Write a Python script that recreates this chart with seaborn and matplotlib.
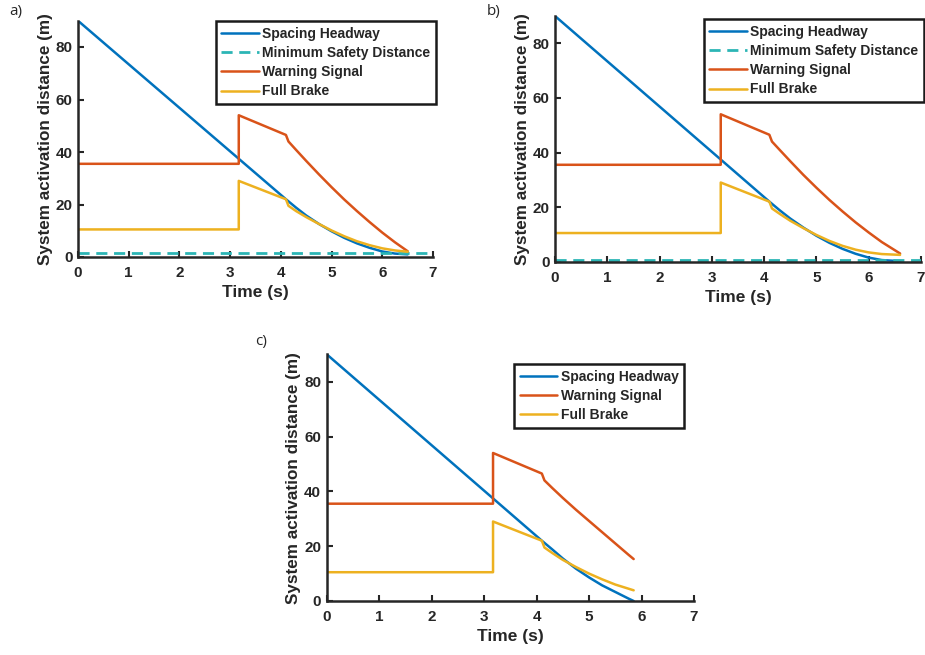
import numpy as np
import pandas as pd
import matplotlib.pyplot as plt
import seaborn as sns

sns.set_style('ticks')
plt.rcParams['font.family'] = ['Liberation Sans', 'DejaVu Sans']

# Цвета в стиле MATLAB
c_head = '#0072BD'
c_warn = '#D95319'
c_brake = '#EDB120'
c_safe = '#2CB5B5'

# --- Панель a ---
a_head_t = [0, 4.1, 4.3, 4.5, 4.75, 5.0, 5.25, 5.5, 5.75, 6.0, 6.25, 6.5]
a_head_d = [90, 22, 18.8, 15.8, 12.6, 9.8, 7.3, 5.2, 3.5, 2.1, 1.3, 1.0]
a_warn_t = [0, 3.17, 3.17, 4.1, 4.15, 4.3, 4.5, 4.75, 5.0, 5.25, 5.5, 5.75, 6.0, 6.25, 6.5]
a_warn_d = [35.5, 35.5, 54, 46.5, 44, 40.8, 36.6, 31.5, 26.6, 21.9, 17.5, 13.3, 9.3, 5.6, 2.2]
a_brake_t = [0, 3.17, 3.17, 4.1, 4.15, 4.3, 4.5, 4.75, 5.0, 5.25, 5.5, 5.75, 6.0, 6.25, 6.5]
a_brake_d = [10.5, 10.5, 29, 22, 19.5, 17.5, 15.2, 12.6, 10.1, 7.9, 6.0, 4.5, 3.3, 2.5, 2.0]
a_safe_t = [0, 7]
a_safe_d = [1.5, 1.5]

# --- Панель b ---
b_head_t = [0, 4.1, 4.3, 4.5, 4.75, 5.0, 5.25, 5.5, 5.75, 6.0, 6.25, 6.6]
b_head_d = [90, 22, 18.8, 15.8, 12.5, 9.5, 6.9, 4.7, 2.9, 1.5, 0.6, 0.2]
b_warn_t = [0, 3.17, 3.17, 4.1, 4.15, 4.3, 4.5, 4.75, 5.0, 5.25, 5.5, 5.75, 6.0, 6.25, 6.6]
b_warn_d = [35.5, 35.5, 54, 46.5, 44, 40.9, 36.8, 31.8, 27.1, 22.6, 18.4, 14.4, 10.7, 7.2, 3.0]
b_brake_t = [0, 3.17, 3.17, 4.1, 4.15, 4.3, 4.5, 4.75, 5.0, 5.25, 5.5, 5.75, 6.0, 6.25, 6.6]
b_brake_d = [10.5, 10.5, 29, 22, 19.5, 17.5, 15, 12.3, 9.8, 7.6, 5.8, 4.4, 3.4, 2.8, 2.5]
b_safe_t = [0, 7]
b_safe_d = [0.8, 0.8]

# --- Панель c ---
c_head_t = [0, 4.1, 4.3, 4.5, 4.75, 5.0, 5.25, 5.5, 5.75, 5.85]
c_head_d = [90, 22, 18.8, 15.5, 11.8, 8.6, 5.7, 3.3, 0.9, 0]
c_warn_t = [0, 3.17, 3.17, 4.1, 4.15, 4.3, 4.5, 4.75, 5.0, 5.25, 5.5, 5.75, 5.85]
c_warn_d = [35.5, 35.5, 54, 46.5, 44, 41.2, 37.6, 33.3, 29.2, 25.1, 21.0, 16.9, 15.3]
c_brake_t = [0, 3.17, 3.17, 4.1, 4.15, 4.3, 4.5, 4.75, 5.0, 5.25, 5.5, 5.75, 5.85]
c_brake_d = [10.5, 10.5, 29, 22, 19.5, 17.5, 15, 12.4, 10, 7.9, 6.0, 4.5, 3.9]

W, H = 925, 655
fig = plt.figure(figsize=(W / 100, H / 100), dpi=100)


def px_axes(x0, y0, x1, y1):
    # прямоугольник осей в пикселях (от верхнего левого угла)
    return fig.add_axes([x0 / W, 1 - y1 / H, (x1 - x0) / W, (y1 - y0) / H])


def draw_panel(ax, series, legend_box, letter, letter_xy):
    for t, d, col, lab, ls in series:
        lw = 2.0 if lab.startswith('Minimum') else 1.8
        sns.lineplot(x=t, y=d, ax=ax, color=col, label=lab, linestyle=ls,
                     linewidth=lw, estimator=None, sort=False)
    ax.set_xlim(0, 7)
    ax.set_ylim(0, 90)
    ax.set_xticks(range(0, 8))
    ax.set_yticks([0, 20, 40, 60, 80])
    ax.tick_params(direction='in', length=4, width=1.5, labelsize=11,
                   colors='#262626')
    ax.tick_params(axis='x', pad=6.5)
    ax.tick_params(axis='y', pad=4)
    for lab in ax.get_xticklabels() + ax.get_yticklabels():
        lab.set_fontweight('bold')
    for s in ['top', 'right']:
        ax.spines[s].set_visible(False)
    for s in ['left', 'bottom']:
        ax.spines[s].set_linewidth(1.8)
        ax.spines[s].set_color('#262626')
    ax.set_xlabel('Time (s)', fontsize=12.5, fontweight='bold', labelpad=3.5)
    ax.set_ylabel('System activation distance (m)', fontsize=12.3,
                  fontweight='bold', labelpad=2)
    x1, y0 = legend_box
    leg = ax.legend(loc='upper right', bbox_to_anchor=(x1 / W, 1 - y0 / H),
                    bbox_transform=fig.transFigure, borderaxespad=0,
                    fancybox=False, framealpha=1, edgecolor='#1a1a1a',
                    prop={'weight': 'bold', 'size': 10},
                    handlelength=2.7, handletextpad=0.25, labelspacing=0.38,
                    borderpad=0.4)
    leg.get_frame().set_linewidth(1.8)
    fig.text(letter_xy[0] / W, 1 - letter_xy[1] / H, letter, fontsize=11,
             family='Open Sans', ha='left', va='center')


dash = (0, (4, 2.4))

ax_a = px_axes(78, 20.75, 433, 257)
draw_panel(ax_a, [
    (a_head_t, a_head_d, c_head, 'Spacing Headway', '-'),
    (a_safe_t, a_safe_d, c_safe, 'Minimum Safety Distance', dash),
    (a_warn_t, a_warn_d, c_warn, 'Warning Signal', '-'),
    (a_brake_t, a_brake_d, c_brake, 'Full Brake', '-'),
], (436, 21), 'a)', (9, 12))

ax_b = px_axes(555, 16, 921, 261.7)
draw_panel(ax_b, [
    (b_head_t, b_head_d, c_head, 'Spacing Headway', '-'),
    (b_safe_t, b_safe_d, c_safe, 'Minimum Safety Distance', dash),
    (b_warn_t, b_warn_d, c_warn, 'Warning Signal', '-'),
    (b_brake_t, b_brake_d, c_brake, 'Full Brake', '-'),
], (924, 19), 'b)', (487, 12))

ax_c = px_axes(326.7, 354.3, 694, 601)
draw_panel(ax_c, [
    (c_head_t, c_head_d, c_head, 'Spacing Headway', '-'),
    (c_warn_t, c_warn_d, c_warn, 'Warning Signal', '-'),
    (c_brake_t, c_brake_d, c_brake, 'Full Brake', '-'),
], (684, 364), 'c)', (255, 341))

plt.savefig('out.png', dpi=100)
